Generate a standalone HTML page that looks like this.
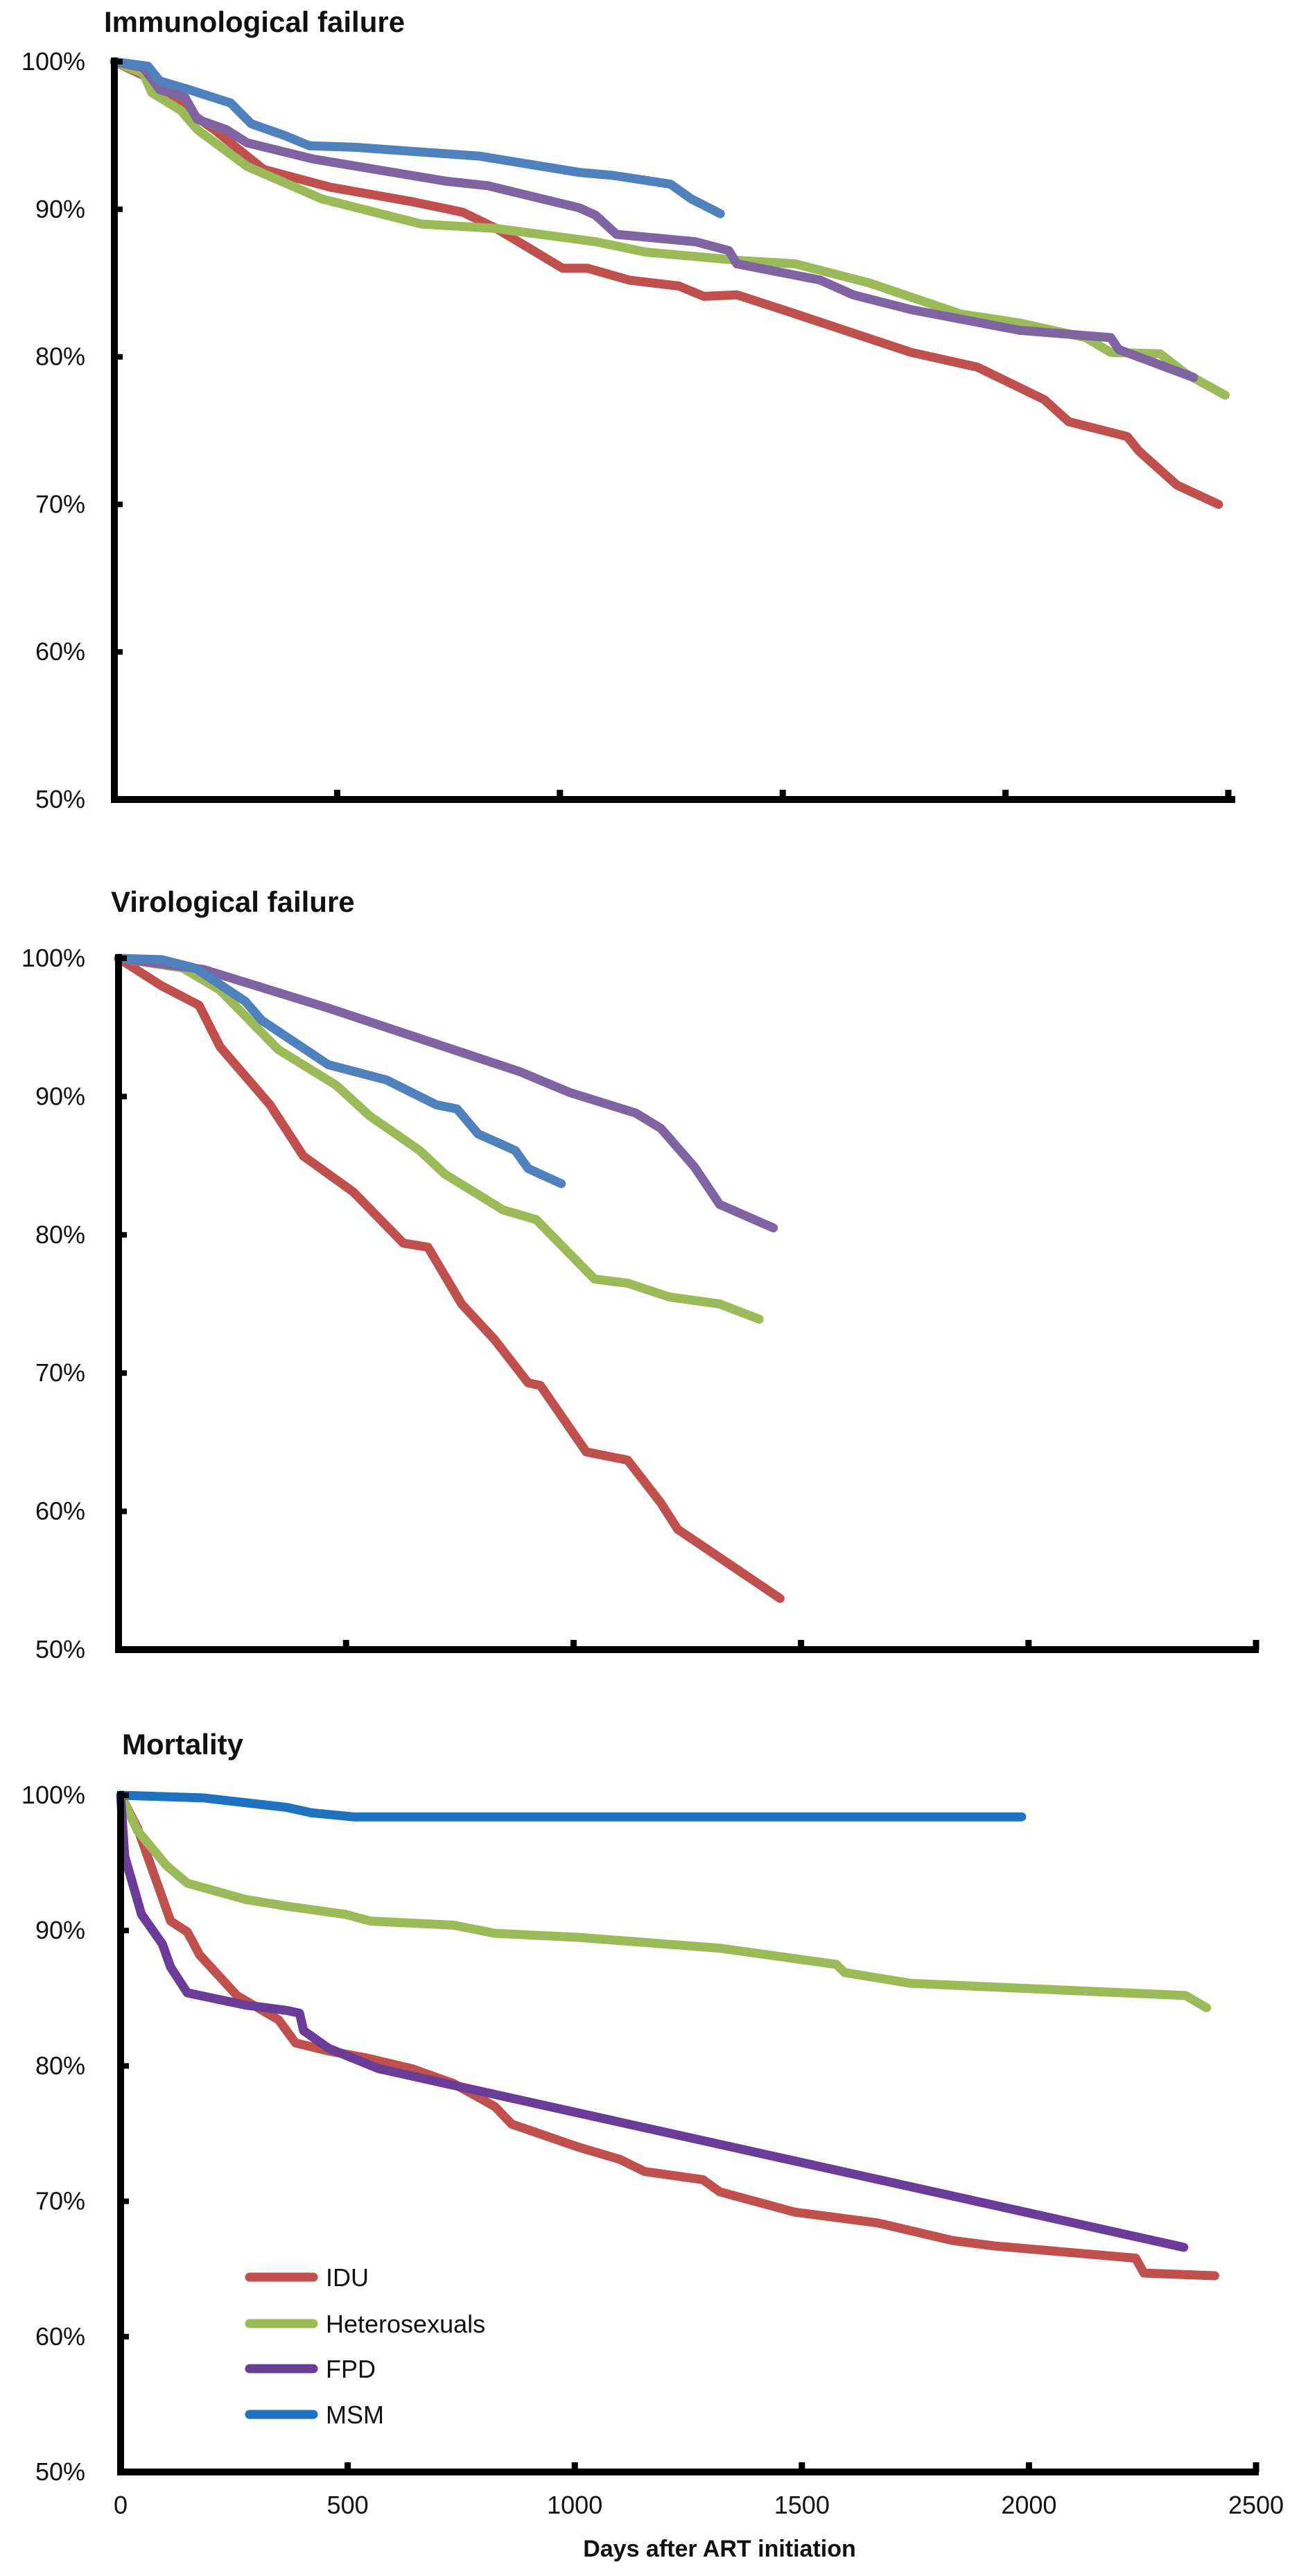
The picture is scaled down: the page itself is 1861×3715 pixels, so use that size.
<!DOCTYPE html>
<html><head><meta charset="utf-8">
<style>
html,body{margin:0;padding:0;background:#fff;}
svg{display:block;}
text{font-family:"Liberation Sans",sans-serif;fill:#111;}
</style></head>
<body>
<svg id="chart" width="1861" height="3715" viewBox="0 0 1861 3715" xmlns="http://www.w3.org/2000/svg"></svg>
<script>
// ---- shared data ----
const groupNames = ["IDU","Heterosexuals","FPD","MSM"];
const groupColors = ["#c0504d","#9bbb59","#8064a2","#4f81bd"];
const mortColors = ["#c0504d","#9bbb59","#6a3c98","#1f72c0"];
const yTicks = [50,60,70,80,90,100];
const yTickLabels = ["50%","60%","70%","80%","90%","100%"];
const xTicks = [0,500,1000,1500,2000,2500];
const xTickLabels = ["0","500","1000","1500","2000","2500"];

// ---- Panel 1: Immunological failure ----
const immIDUDays = [0,84,140,224,335,484,671,782,857,1006,1062,1155,1267,1323,1397,1509,1788,1937,2087,2142,2273,2300,2385,2478];
const immIDUVals = [100,98.8,97.2,95.4,92.7,91.5,90.5,89.8,88.7,86,86,85.2,84.8,84.1,84.2,83.1,80.3,79.3,77.1,75.6,74.6,73.6,71.3,70];
const immHetDays = [0,65,84,149,186,298,466,689,857,1080,1192,1416,1528,1695,1900,2031,2180,2236,2347,2403,2493];
const immHetVals = [100,99.2,97.9,96.7,95.4,92.9,90.7,89,88.7,87.8,87.1,86.5,86.3,85,82.9,82.3,81.3,80.3,80.2,78.9,77.4];
const immFPDDays = [0,65,102,158,186,251,298,447,745,838,1043,1080,1127,1304,1379,1397,1584,1658,1788,2031,2236,2254,2422];
const immFPDVals = [100,99.6,98.1,97.6,96.1,95.4,94.5,93.4,91.9,91.6,90.1,89.6,88.3,87.8,87.2,86.3,85.2,84.2,83.2,81.8,81.3,80.5,78.6];
const immMSMDays = [0,75,102,168,261,307,382,438,540,820,1043,1118,1248,1295,1360];
const immMSMVals = [100,99.7,98.7,98.1,97.2,95.8,95,94.3,94.2,93.6,92.5,92.3,91.7,90.7,89.7];

// ---- Panel 2: Virological failure ----
const virIDUDays = [0,95,177,223,333,406,516,626,680,754,827,900,927,1028,1119,1192,1229,1454];
const virIDUVals = [100,98,96.6,93.6,89.4,85.7,83.1,79.4,79.1,75,72.4,69.3,69.1,64.3,63.7,60.6,58.7,53.7];
const virHetDays = [0,141,223,351,479,552,662,717,845,918,1046,1119,1211,1321,1408];
const virHetVals = [100,99.3,97.7,93.4,90.8,88.6,86.1,84.4,81.8,81.1,76.8,76.5,75.5,75,73.9];
const virFPDDays = [0,186,461,735,882,991,1137,1192,1266,1321,1439];
const virFPDVals = [100,99.2,96.4,93.4,91.8,90.3,88.8,87.7,84.9,82.2,80.5];
const virMSMDays = [0,95,168,278,315,461,589,699,744,790,872,900,973];
const virMSMVals = [100,99.9,99.3,96.9,95.5,92.3,91.2,89.4,89.1,87.3,86.1,84.8,83.7];

// ---- Panel 3: Mortality ----
const morIDUDays = [0,37,73,110,147,174,229,256,348,385,458,540,641,733,824,861,1008,1099,1154,1282,1319,1484,1667,1832,1924,2235,2253,2409];
const morIDUVals = [100,97.6,94.2,90.7,89.9,88.2,86.2,85.2,83.4,81.7,81.1,80.6,79.8,78.7,77,75.7,74,73.1,72.2,71.6,70.7,69.2,68.4,67.1,66.7,65.8,64.7,64.5];
const morHetDays = [0,37,101,147,275,366,495,550,733,824,1008,1319,1576,1594,1740,2345,2391];
const morHetVals = [100,97.4,94.8,93.5,92.3,91.8,91.2,90.7,90.4,89.8,89.5,88.7,87.5,86.9,86.1,85.2,84.3];
const morFPDDays = [0,9,46,92,110,147,275,366,394,403,458,568,2341];
const morFPDVals = [100,95.5,91.2,89,87.3,85.4,84.5,84.1,83.9,82.6,81.3,79.8,66.6];
const morMSMDays = [0,183,366,421,513,1984];
const morMSMVals = [100,99.8,99.1,98.7,98.4,98.4];

const panels = [
  {name:"immunological-failure", title:"Immunological failure", tx:150, ty:46, x0:165, x1:1772, y100:89, y50:1153, axisEnd:1782, xLabels:false, colors:groupColors,
   series:[[immIDUDays,immIDUVals],[immHetDays,immHetVals],[immFPDDays,immFPDVals],[immMSMDays,immMSMVals]]},
  {name:"virological-failure", title:"Virological failure", tx:160, ty:1315, x0:171, x1:1812, y100:1382, y50:2379, axisEnd:1816, xLabels:false, colors:groupColors,
   series:[[virIDUDays,virIDUVals],[virHetDays,virHetVals],[virFPDDays,virFPDVals],[virMSMDays,virMSMVals]]},
  {name:"mortality", title:"Mortality", tx:176, ty:2530, x0:174, x1:1812, y100:2589, y50:3565, axisEnd:1816, xLabels:true, colors:mortColors,
   series:[[morIDUDays,morIDUVals],[morHetDays,morHetVals],[morFPDDays,morFPDVals],[morMSMDays,morMSMVals]]}
];

const NS="http://www.w3.org/2000/svg";
const svg=document.getElementById('chart');
function mk(tag,attrs,parent){const e=document.createElementNS(NS,tag);for(const k in attrs)e.setAttribute(k,attrs[k]);(parent||svg).appendChild(e);return e;}

panels.forEach((p)=>{
  const g=mk('g',{});
  
  
  const xs=d=>p.x0+(d/2500)*(p.x1-p.x0);
  const ys=v=>p.y50-(v-50)/50*(p.y50-p.y100);
  const t=mk('text',{x:p.tx,y:p.ty,'font-size':42,'font-weight':'bold'},g);
  t.textContent=p.title;
  
  
  p.series.forEach((s,i)=>{
    const pts=s[0].map((d,j)=>xs(d).toFixed(1)+','+ys(s[1][j]).toFixed(1)).join(' ');
    const pl=mk('polyline',{points:pts,fill:'none',stroke:p.colors[i],'stroke-width':13,'stroke-linejoin':'round','stroke-linecap':'round'},g);
    
    
  });
  const ya=mk('line',{x1:p.x0,y1:p.y100-6,x2:p.x0,y2:p.y50+5,stroke:'#000','stroke-width':10},g);
  
  
  const xa=mk('line',{x1:p.x0-5,y1:p.y50,x2:p.axisEnd,y2:p.y50,stroke:'#000','stroke-width':10},g);
  
  
  yTicks.forEach((v,i)=>{
    mk('line',{x1:p.x0,y1:ys(v),x2:p.x0+12,y2:ys(v),stroke:'#000','stroke-width':8},g);
    const l=mk('text',{x:123,y:ys(v)+12,'font-size':36,'text-anchor':'end'},g);
    l.textContent=yTickLabels[i];
    
    
  });
  xTicks.forEach((d,i)=>{
    if(d>0) mk('line',{x1:xs(d),y1:p.y50,x2:xs(d),y2:p.y50-14,stroke:'#000','stroke-width':9},g);
    if(p.xLabels){
      const l=mk('text',{x:xs(d),y:p.y50+60,'font-size':36,'text-anchor':'middle'},g);
      l.textContent=xTickLabels[i];
      
      
    }
  });
});

const xt=mk('text',{x:1038,y:3687,'font-size':34,'font-weight':'bold','text-anchor':'middle'});
xt.textContent='Days after ART initiation';



const legendY=[3284,3351,3416,3482];
groupNames.forEach((n,i)=>{
  const lg=mk('g',{});
  
  
  mk('line',{x1:360,y1:legendY[i],x2:452,y2:legendY[i],stroke:mortColors[i],'stroke-width':13,'stroke-linecap':'round'},lg);
  const tt=mk('text',{x:470,y:legendY[i]+13,'font-size':36},lg);
  tt.textContent=n;
});
</script>
</body></html>
